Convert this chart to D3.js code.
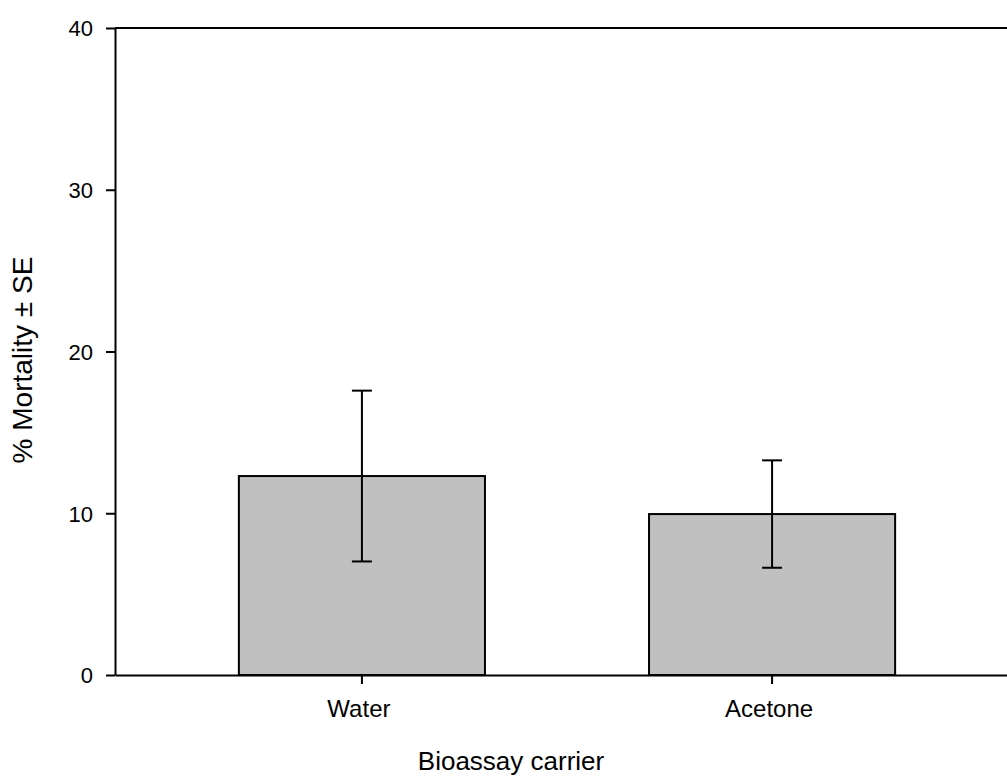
<!DOCTYPE html>
<html>
<head>
<meta charset="utf-8">
<script src="https://cdn.jsdelivr.net/npm/d3@7"></script>
<style>
  html, body { margin: 0; padding: 0; background: #fff; overflow: hidden; }
  svg { display: block; }
  text { font-family: "Liberation Sans", Arial, sans-serif; fill: #000; }
</style>
</head>
<body>
<script>
// Mortality by bioassay carrier (mean ± standard error)
const carriers = ["Water", "Acetone"];
const mortality = [12.3, 9.95];
const stdError = [5.28, 3.32];
const yTicks = [0, 10, 20, 30, 40];

const width = 1007, height = 778;
const plotLeft = 115, plotTop = 28, plotBottom = 675, plotRight = 1019;

const svg = d3.select("body").append("svg")
  .attr("width", width).attr("height", height);

const x = d3.scaleBand()
  .domain(carriers)
  .range([plotLeft, plotRight])
  .paddingInner(0.4)
  .paddingOuter(0.302);

const y = d3.scaleLinear().domain([0, 40]).range([plotBottom, plotTop]);

// bars
svg.append("g").selectAll("rect")
  .data(carriers)
  .join("rect")
  .attr("x", d => x(d))
  .attr("y", (d, i) => y(mortality[i]))
  .attr("width", x.bandwidth())
  .attr("height", (d, i) => y(0) - y(mortality[i]))
  .attr("fill", "#c0c0c0")
  .attr("stroke", "#000")
  .attr("stroke-width", 2);

// error bars
const eb = svg.append("g").attr("stroke", "#000").attr("stroke-width", 2);
carriers.forEach((c, i) => {
  const cx = x(c) + x.bandwidth() / 2;
  const hi = y(mortality[i] + stdError[i]);
  const lo = y(mortality[i] - stdError[i]);
  eb.append("line").attr("x1", cx).attr("x2", cx).attr("y1", hi).attr("y2", lo);
  eb.append("line").attr("x1", cx - 10).attr("x2", cx + 10).attr("y1", hi).attr("y2", hi);
  eb.append("line").attr("x1", cx - 10).attr("x2", cx + 10).attr("y1", lo).attr("y2", lo);
});

// top frame line
svg.append("line")
  .attr("x1", plotLeft).attr("x2", width + 20)
  .attr("y1", plotTop).attr("y2", plotTop)
  .attr("stroke", "#000").attr("stroke-width", 2);

// y axis
const yAxis = svg.append("g")
  .attr("transform", `translate(${plotLeft},0)`)
  .call(d3.axisLeft(y).tickValues(yTicks).tickSize(9).tickPadding(13).tickSizeOuter(0));
yAxis.select(".domain").attr("stroke-width", 2);
yAxis.selectAll(".tick line").attr("stroke-width", 2);
yAxis.selectAll(".tick text").style("font-size", "22px").attr("dy", "0.36em");

// x axis
const xAxis = svg.append("g")
  .attr("transform", `translate(0,${plotBottom})`)
  .call(d3.axisBottom(x).tickSize(9).tickPadding(16).tickSizeOuter(0));
xAxis.select(".domain").attr("stroke-width", 2);
xAxis.selectAll(".tick line").attr("stroke-width", 2);
xAxis.selectAll(".tick text").style("font-size", "24px").attr("dx", "-3");

// axis titles
svg.append("text")
  .attr("x", 511)
  .attr("y", 770)
  .attr("text-anchor", "middle")
  .style("font-size", "26px")
  .text("Bioassay carrier");

svg.append("text")
  .attr("transform", "translate(32,360) rotate(-90)")
  .attr("text-anchor", "middle")
  .style("font-size", "28px")
  .text("% Mortality ± SE");
</script>
</body>
</html>
